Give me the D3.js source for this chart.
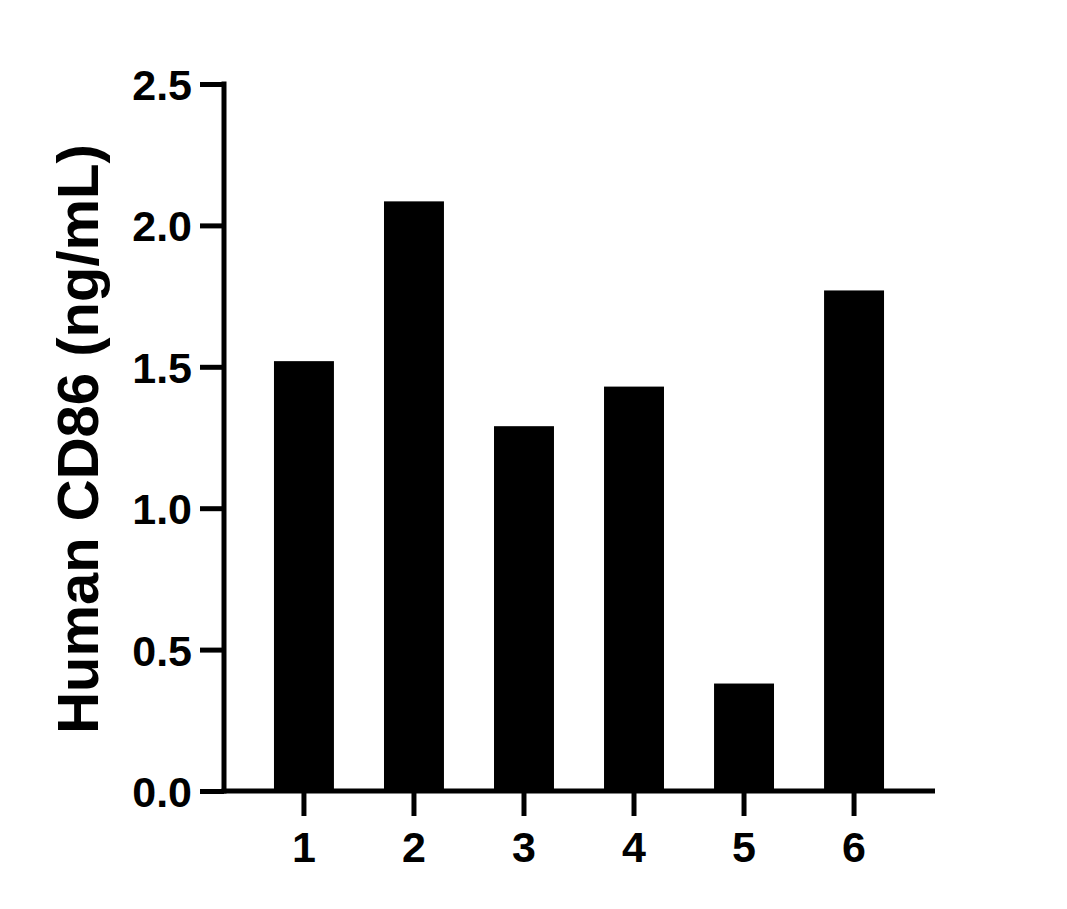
<!DOCTYPE html>
<html lang="en">
<head>
<meta charset="utf-8">
<script src="https://d3js.org/d3.v7.min.js"></script>
<style>
  body { margin: 0; background: #fff; }
  text { font-family: "Liberation Sans", Arial, sans-serif; font-weight: bold; fill: #000; }
</style>
</head>
<body>
<script>
// data
var groups = ["1", "2", "3", "4", "5", "6"];
var values = [1.52, 2.085, 1.29, 1.43, 0.38, 1.77];
var yTicks = [0.0, 0.5, 1.0, 1.5, 2.0, 2.5];

var width = 1067, height = 909;
var x0 = 224, x1 = 935, yTop = 84, yBot = 791;

var svg = d3.select("body").append("svg")
    .attr("width", width)
    .attr("height", height);

var y = d3.scaleLinear().domain([0, 2.5]).range([yBot, yTop]);

var x = d3.scaleBand()
    .domain(groups)
    .range([249, 909])
    .paddingInner(0.455)
    .paddingOuter(0.227);

// bars
svg.selectAll(".bar")
    .data(values)
    .enter()
    .append("rect")
    .attr("class", "bar")
    .attr("x", function(d, i) { return x(groups[i]); })
    .attr("y", function(d) { return y(d); })
    .attr("width", x.bandwidth())
    .attr("height", function(d) { return yBot - y(d); })
    .attr("fill", "#000");

// y axis
var yAxis = d3.axisLeft(y)
    .tickValues(yTicks)
    .tickFormat(d3.format(".1f"))
    .tickSize(24)
    .tickPadding(8);

var gy = svg.append("g")
    .attr("transform", "translate(" + x0 + ",0)")
    .call(yAxis);
gy.select(".domain").remove();
gy.selectAll(".tick line").attr("stroke", "#000").attr("stroke-width", 5);
gy.selectAll(".tick text").attr("font-size", 43).attr("dy", "0.36em");
gy.append("line")
    .attr("x1", 0).attr("x2", 0)
    .attr("y1", yTop - 2.5).attr("y2", yBot + 2.5)
    .attr("stroke", "#000").attr("stroke-width", 5);

// x axis
var xAxis = d3.axisBottom(x)
    .tickSize(25)
    .tickPadding(15);

var gx = svg.append("g")
    .attr("transform", "translate(0," + yBot + ")")
    .call(xAxis);
gx.select(".domain").remove();
gx.selectAll(".tick line").attr("stroke", "#000").attr("stroke-width", 5);
gx.selectAll(".tick text").attr("font-size", 43);
gx.append("line")
    .attr("x1", x0 - 2.5).attr("x2", x1)
    .attr("y1", 0).attr("y2", 0)
    .attr("stroke", "#000").attr("stroke-width", 5);

// y label
svg.append("text")
    .attr("transform", "translate(98," + 439 + ") rotate(-90)")
    .attr("text-anchor", "middle")
    .attr("font-size", 58)
    .text("Human CD86 (ng/mL)");
</script>
</body>
</html>
